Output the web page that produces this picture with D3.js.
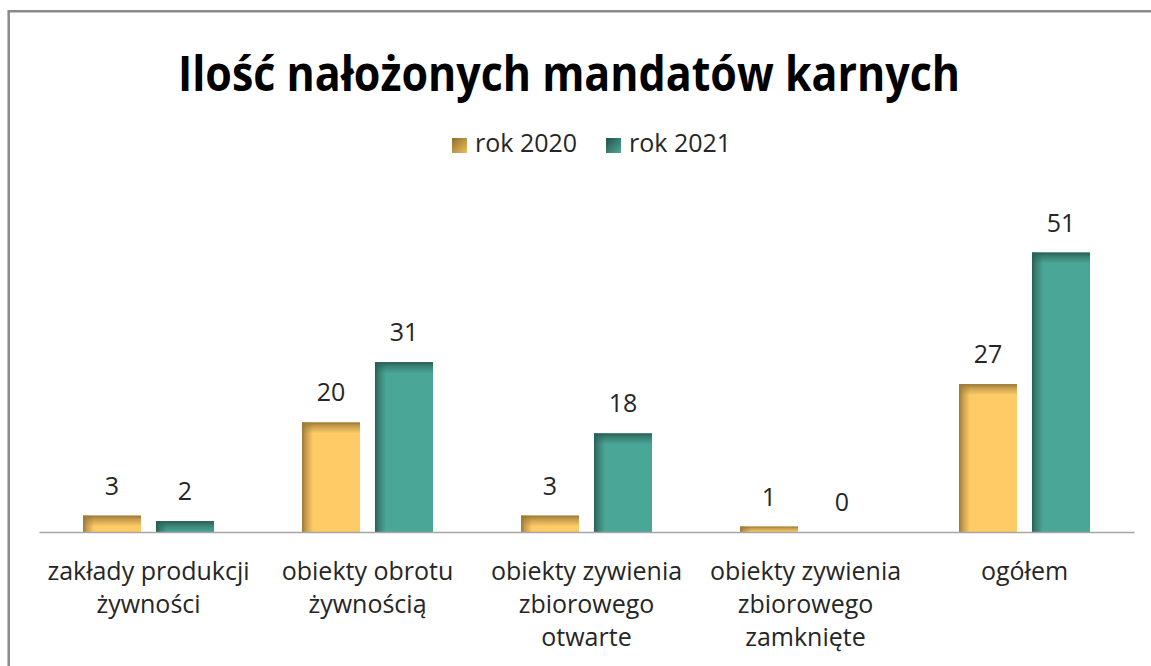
<!DOCTYPE html>
<html><head><meta charset="utf-8">
<script src="https://cdn.jsdelivr.net/npm/d3@7"></script>
<style>html,body{margin:0;padding:0;background:#fff;}svg{display:block;}</style>
</head><body>
<svg id="c" width="1151" height="666"></svg>
<script>
const title = "Ilość nałożonych mandatów karnych";
const categories = [
  ["zakłady produkcji", "żywności"],
  ["obiekty obrotu", "żywnością"],
  ["obiekty zywienia", "zbiorowego", "otwarte"],
  ["obiekty zywienia", "zbiorowego", "zamknięte"],
  ["ogółem"]
];
const seriesNames = ["rok 2020", "rok 2021"];
const values2020 = [3, 20, 3, 1, 27];
const values2021 = [2, 31, 18, 0, 51];
const yMax = 60;

const colors = {
  "rok 2020": {body:"#FECB66", dark:"#9A7838", lg1:"#8E6C2C", lg2:"#EDBD5C"},
  "rok 2021": {body:"#4AA696", dark:"#2A5F55", lg1:"#22504A", lg2:"#4FA898"}
};

const svg = d3.select("#c");
const defs = svg.append("defs");
const FONT = "'Open Sans', sans-serif";

seriesNames.forEach((s,i)=>{
  const c = colors[s];
  const gl = defs.append("linearGradient").attr("id","gl"+i).attr("x1","0").attr("x2","1").attr("y1","0").attr("y2","0");
  gl.append("stop").attr("offset","0").attr("stop-color",c.dark).attr("stop-opacity",1);
  gl.append("stop").attr("offset","0.35").attr("stop-color",c.dark).attr("stop-opacity",0.55);
  gl.append("stop").attr("offset","1").attr("stop-color",c.dark).attr("stop-opacity",0);
  const gt = defs.append("linearGradient").attr("id","gt"+i).attr("x1","0").attr("x2","0").attr("y1","0").attr("y2","1");
  gt.append("stop").attr("offset","0").attr("stop-color",c.dark).attr("stop-opacity",1);
  gt.append("stop").attr("offset","0.35").attr("stop-color",c.dark).attr("stop-opacity",0.55);
  gt.append("stop").attr("offset","1").attr("stop-color",c.dark).attr("stop-opacity",0);
  const gg = defs.append("linearGradient").attr("id","lg"+i).attr("x1","0").attr("x2","1").attr("y1","0").attr("y2","1");
  gg.append("stop").attr("offset","0").attr("stop-color",c.lg1);
  gg.append("stop").attr("offset","1").attr("stop-color",c.lg2);
});

// frame
svg.append("path").attr("d","M8.7,666 V11.3 H1151").attr("fill","none").attr("stroke","#8a8a8a").attr("stroke-width",2.5);

// title
svg.append("text").attr("x",569).attr("y",91).attr("text-anchor","middle")
  .attr("font-family",FONT).attr("font-weight","bold").attr("font-size",48)
  .attr("fill","#000").attr("textLength",782).attr("lengthAdjust","spacingAndGlyphs")
  .text(title);

// legend
const legendX = [452, 606];
seriesNames.forEach((s,i)=>{
  const g = svg.append("g").attr("transform",`translate(${legendX[i]},138)`);
  g.append("rect").attr("width",15).attr("height",15).attr("fill",`url(#lg${i})`);
  g.append("text").attr("x",23).attr("y",14).attr("font-family",FONT).attr("font-size",25)
    .attr("fill","#262626").text(s);
});

// scales
const x0 = d3.scaleBand().domain(d3.range(categories.length)).range([39,1134]).padding(0);
const x1 = d3.scaleBand().domain(seriesNames).range([0,x0.bandwidth()]).paddingInner(0.205).paddingOuter(0.603);
const y = d3.scaleLinear().domain([0,yMax]).range([532, 532 - yMax*5.48]);

const data = [];
categories.forEach((c,ci)=>{
  data.push({ci, s:"rok 2020", si:0, v:values2020[ci]});
  data.push({ci, s:"rok 2021", si:1, v:values2021[ci]});
});

const bars = svg.append("g");
data.forEach(d=>{
  const bx = x0(d.ci) + x1(d.s), bw = x1.bandwidth();
  const by = y(d.v), bh = y(0) - y(d.v);
  if (bh > 0) {
    bars.append("rect").attr("x",bx).attr("y",by).attr("width",bw).attr("height",bh).attr("fill",colors[d.s].body);
    bars.append("rect").attr("x",bx).attr("y",by).attr("width",Math.min(11,bw)).attr("height",bh).attr("fill",`url(#gl${d.si})`);
    bars.append("rect").attr("x",bx).attr("y",by).attr("width",bw).attr("height",Math.min(11,bh)).attr("fill",`url(#gt${d.si})`);
  }
  svg.append("text").attr("x",bx+bw/2).attr("y",by-21).attr("text-anchor","middle")
    .attr("font-family",FONT).attr("font-size",25).attr("fill","#262626").text(d.v);
});

// axis
const axis = svg.append("g").attr("transform",`translate(0,${y(0)})`)
  .call(d3.axisBottom(x0).tickSize(0).tickFormat(""));
axis.select(".domain").attr("stroke","#a6a6a6").attr("stroke-width",1.5);

// category labels
categories.forEach((lines,ci)=>{
  const t = svg.append("text").attr("text-anchor","middle").attr("font-family",FONT)
    .attr("font-size",25).attr("fill","#262626");
  lines.forEach((ln,li)=>{
    t.append("tspan").attr("x",x0(ci)+x0.bandwidth()/2).attr("y",580+li*33).text(ln);
  });
});
</script>
</body></html>
